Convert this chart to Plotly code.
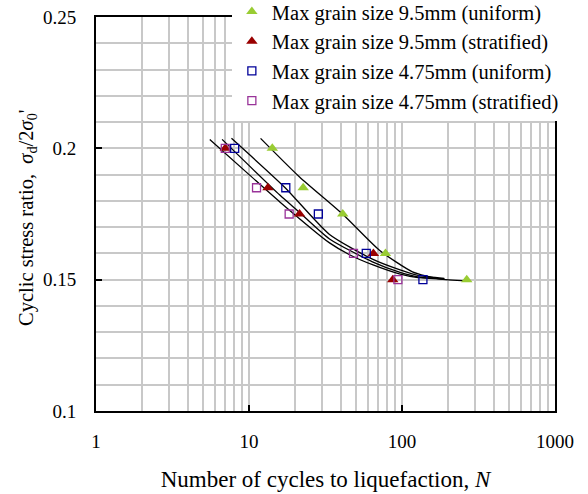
import plotly.graph_objects as go

# ---- data ----
cats = ["Max grain size 9.5mm (uniform)", "Max grain size 9.5mm (stratified)",
        "Max grain size 4.75mm (uniform)", "Max grain size 4.75mm (stratified)"]

n_95u = [14.2, 22.6, 41, 78, 265]
csr_95u = [0.200, 0.185, 0.175, 0.160, 0.150]
n_95s = [7.0, 13.3, 21.4, 65, 87]
csr_95s = [0.200, 0.185, 0.175, 0.160, 0.150]
n_475u = [8.06, 17.4, 28.4, 58.4, 137]
csr_475u = [0.200, 0.185, 0.175, 0.160, 0.150]
n_475s = [7.0, 11.2, 18.3, 48.2, 94]
csr_475s = [0.200, 0.185, 0.175, 0.160, 0.150]

# fitted curves
fitA_n = [5.54, 10.1, 15.9, 33.6, 45.4, 64.1, 96.1, 124, 189]
fitA_y = [0.2034, 0.1898, 0.1796, 0.1640, 0.1595, 0.1557, 0.1522, 0.1509, 0.1502]
fitB_n = [6.67, 15.9, 21.4, 33.6, 64.1, 96.1, 130, 189]
fitB_y = [0.2034, 0.1822, 0.1756, 0.1655, 0.1568, 0.1529, 0.1510, 0.1503]
fitC_n = [7.68, 17.1, 33.6, 64.1, 96.1, 130, 189]
fitC_y = [0.2038, 0.1852, 0.1672, 0.1578, 0.1538, 0.1515, 0.1505]
fitD_n = [11.9, 21.4, 41, 71.2, 117, 175, 267]
fitD_y = [0.2038, 0.1891, 0.1749, 0.1612, 0.1530, 0.1503, 0.1495]

x_ticks = [1, 10, 100, 1000]
y_ticks = [0.1, 0.15, 0.2, 0.25]

fig = go.Figure()

for fx, fy in [(fitA_n, fitA_y), (fitB_n, fitB_y), (fitC_n, fitC_y), (fitD_n, fitD_y)]:
    fig.add_trace(go.Scatter(x=fx, y=fy, mode="lines",
                             line=dict(color="black", width=1.3, shape="spline", smoothing=0.6),
                             showlegend=False, hoverinfo="skip"))

series = [
    (n_95u, csr_95u, dict(symbol="triangle-up", size=10, color="#99cc33")),
    (n_95s, csr_95s, dict(symbol="triangle-up", size=10, color="#990000")),
    (n_475u, csr_475u, dict(symbol="square-open", size=8, color="#000099", line=dict(width=1.3))),
    (n_475s, csr_475s, dict(symbol="square-open", size=8, color="#993399", line=dict(width=1.3))),
]
for (xs, ys, mk), name in zip(series, cats):
    fig.add_trace(go.Scatter(x=xs, y=ys, mode="markers", marker=mk, name=name, legendgroup=name))

grid = "#c8c8c8"
serif = "Liberation Serif, Times New Roman, serif"
font = dict(family=serif, size=19, color="black")

fig.update_layout(
    width=588, height=494,
    margin=dict(l=96, r=33, t=17, b=83, autoexpand=False),
    paper_bgcolor="white", plot_bgcolor="white",
    font=font,
    showlegend=True,
    legend=dict(x=0.296, y=1.064, xanchor="left", yanchor="top", bgcolor="white",
                font=dict(family=serif, size=20.5),
                tracegroupgap=0, itemwidth=30),
    xaxis=dict(type="log", range=[0, 3], tickvals=x_ticks, ticktext=[str(v) for v in x_ticks],
               showgrid=True, gridcolor=grid, gridwidth=1.5,
               minor=dict(dtick="D1", showgrid=True, gridcolor=grid, gridwidth=1.5, ticks=""),
               ticks="inside", ticklen=6, tickwidth=1.5, tickcolor="black",
               showline=True, linecolor="black", linewidth=2, mirror=True,
               ticklabelstandoff=12, zeroline=False,
               title=dict(text="Number of cycles to liquefaction, <i>N</i>", standoff=20)),
    yaxis=dict(range=[0.1, 0.25], tickvals=y_ticks, ticktext=["0.1", "0.15", "0.2", "0.25"],
               showgrid=False,
               minor=dict(dtick=0.01, showgrid=True, gridcolor=grid, gridwidth=1.5, ticks=""),
               ticks="inside", ticklen=6, tickwidth=1.5, tickcolor="black",
               showline=True, linecolor="black", linewidth=2, mirror=True,
               ticklabelstandoff=14, zeroline=False),
    annotations=[dict(text="Cyclic stress ratio,  <i>σ</i><sub>d</sub>/2<i>σ</i><sub>0</sub>'",
                      xref="paper", yref="paper", x=-0.148, y=0.49, xanchor="center", yanchor="middle",
                      textangle=-90, showarrow=False, font=dict(family=serif, size=20.5))],
)

fig.write_html("out.html")
